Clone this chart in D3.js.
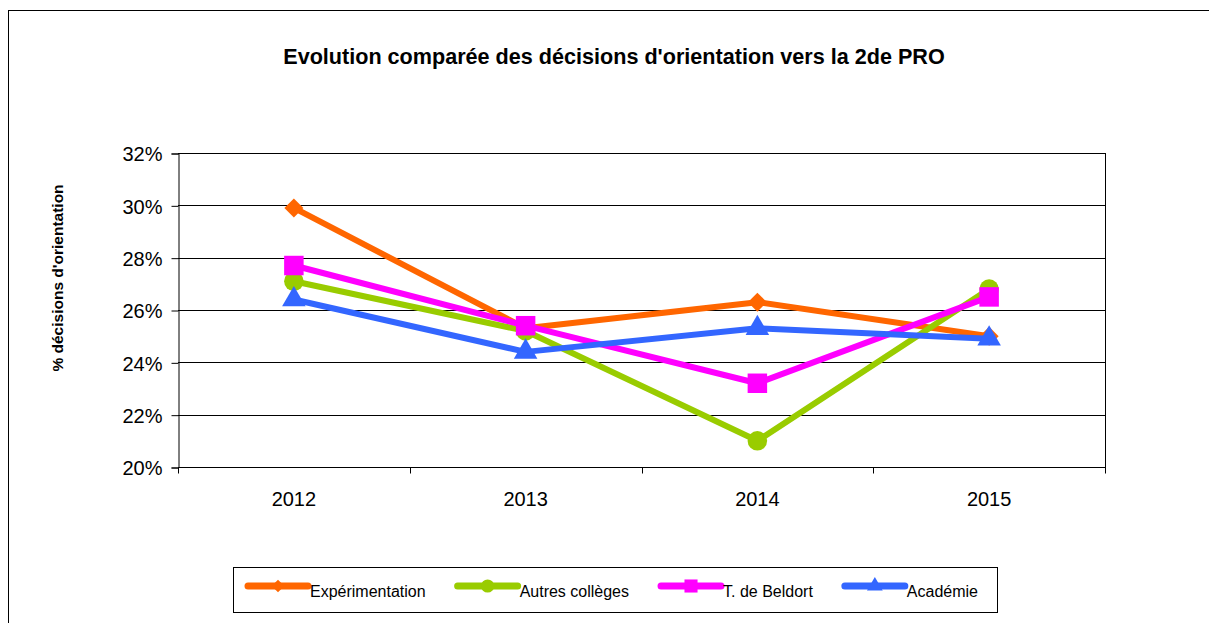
<!DOCTYPE html>
<html>
<head>
<meta charset="utf-8">
<script src="https://cdn.jsdelivr.net/npm/d3@7"></script>
<style>
  body { margin: 0; background: #fff; }
  text { font-family: "Liberation Sans", Arial, sans-serif; fill: #000; }
</style>
</head>
<body>
<script>
// données
var annees = ["2012", "2013", "2014", "2015"];
var experimentation = [0.299, 0.253, 0.263, 0.250];
var autresColleges = [0.271, 0.252, 0.210, 0.268];
var beldort = [0.277, 0.254, 0.232, 0.265];
var academie = [0.264, 0.244, 0.253, 0.249];
var yTicks = [0.20, 0.22, 0.24, 0.26, 0.28, 0.30, 0.32];

var titre = "Evolution comparée des décisions d'orientation vers la 2de PRO";
var titreY = "%  décisions d'orientation";

var series = [
  { nom: "Expérimentation", valeurs: experimentation, couleur: "#FF6600", marque: "diamond" },
  { nom: "Autres collèges", valeurs: autresColleges, couleur: "#99CC00", marque: "circle" },
  { nom: "T. de Beldort", valeurs: beldort, couleur: "#FF00FF", marque: "square" },
  { nom: "Académie", valeurs: academie, couleur: "#3366FF", marque: "triangle" }
];

var width = 1209, height = 623;
var plot = { left: 178, right: 1105, top: 153, bottom: 467 };

var svg = d3.select("body").append("svg")
  .attr("width", width)
  .attr("height", height);

// cadre extérieur (coupé à droite et en bas)
svg.append("rect")
  .attr("x", 8.5).attr("y", 10.5)
  .attr("width", 1220).attr("height", 630)
  .attr("fill", "none").attr("stroke", "#000").attr("stroke-width", 1);

// titre
svg.append("text")
  .attr("x", 614).attr("y", 64)
  .attr("text-anchor", "middle")
  .style("font-size", "21.6px").style("font-weight", "bold")
  .text(titre);

var x = d3.scaleBand().domain(annees).range([plot.left, plot.right]).padding(0);
var y = d3.scaleLinear().domain([0.20, 0.32]).range([plot.bottom, plot.top]);

// grille horizontale
svg.append("g").selectAll("line")
  .data(yTicks)
  .enter().append("line")
  .attr("x1", plot.left).attr("x2", plot.right)
  .attr("y1", function(d) { return Math.round(y(d)) + 0.5; })
  .attr("y2", function(d) { return Math.round(y(d)) + 0.5; })
  .attr("stroke", "#000").attr("stroke-width", 1);

// axe Y
var axeY = svg.append("g")
  .attr("transform", "translate(" + (plot.left + 0.5) + ",0.5)")
  .call(d3.axisLeft(y).tickValues(yTicks).tickSize(7).tickPadding(9).tickFormat(d3.format(".0%")));
axeY.select(".domain").attr("stroke", "#000");
axeY.selectAll("text").style("font-size", "20px").attr("dy", "0.36em");

// bord droit
svg.append("line")
  .attr("x1", plot.right + 0.5).attr("x2", plot.right + 0.5)
  .attr("y1", plot.top).attr("y2", plot.bottom)
  .attr("stroke", "#000");

// axe X : traits de graduation entre les catégories
var axeX = svg.append("g")
  .attr("transform", "translate(0," + (plot.bottom + 0.5) + ")");
axeX.append("line")
  .attr("x1", plot.left).attr("x2", plot.right + 1)
  .attr("stroke", "#000");
axeX.selectAll(".tick")
  .data(annees.concat(["fin"]))
  .enter().append("line")
  .attr("x1", function(d, i) { return Math.round(plot.left + i * x.bandwidth()) + 0.5; })
  .attr("x2", function(d, i) { return Math.round(plot.left + i * x.bandwidth()) + 0.5; })
  .attr("y1", 0).attr("y2", 6)
  .attr("stroke", "#000");
axeX.selectAll(".lbl")
  .data(annees)
  .enter().append("text")
  .attr("x", function(d) { return x(d) + x.bandwidth() / 2; })
  .attr("y", 38)
  .attr("text-anchor", "middle")
  .style("font-size", "20px")
  .text(function(d) { return d; });

// titre de l'axe Y
svg.append("text")
  .attr("transform", "translate(63,278) rotate(-90)")
  .attr("text-anchor", "middle")
  .style("font-size", "15.5px").style("font-weight", "bold")
  .text(titreY);

function symbole(type, taille) {
  var t = { diamond: d3.symbolSquare, circle: d3.symbolCircle, square: d3.symbolSquare, triangle: d3.symbolTriangle }[type];
  return d3.symbol().type(t).size(taille)();
}
function rotation(type) {
  return type === "diamond" ? " rotate(45)" : "";
}

var ligne = d3.line()
  .x(function(d, i) { return x(annees[i]) + x.bandwidth() / 2; })
  .y(function(d) { return y(d); });

var tailles = { diamond: 180, circle: 300, square: 380, triangle: 240 };

series.forEach(function(s) {
  var g = svg.append("g");
  g.append("path")
    .attr("d", ligne(s.valeurs))
    .attr("fill", "none")
    .attr("stroke", s.couleur)
    .attr("stroke-width", 6)
    .attr("stroke-linejoin", "round");
  g.selectAll("path.m")
    .data(s.valeurs)
    .enter().append("path")
    .attr("class", "m")
    .attr("d", symbole(s.marque, tailles[s.marque]))
    .attr("transform", function(d, i) {
      return "translate(" + (x(annees[i]) + x.bandwidth() / 2) + "," + y(d) + ")" + rotation(s.marque);
    })
    .attr("fill", s.couleur);
});

// légende
var leg = svg.append("g");
leg.append("rect")
  .attr("x", 233.5).attr("y", 567.5)
  .attr("width", 764).attr("height", 45)
  .attr("fill", "#fff").attr("stroke", "#000");

var pos = 248;
series.forEach(function(s) {
  var it = leg.append("g");
  it.append("line")
    .attr("x1", pos).attr("x2", pos + 60)
    .attr("y1", 586).attr("y2", 586)
    .attr("stroke", s.couleur).attr("stroke-width", 7)
    .attr("stroke-linecap", "round");
  it.append("path")
    .attr("d", symbole(s.marque, tailles[s.marque] * 0.45))
    .attr("transform", "translate(" + (pos + 30) + ",586)" + rotation(s.marque))
    .attr("fill", s.couleur);
  var t = it.append("text")
    .attr("x", pos + 62).attr("y", 597)
    .style("font-size", "16px")
    .text(s.nom);
  pos = pos + 62 + t.node().getComputedTextLength() + 32;
});
</script>
</body>
</html>
